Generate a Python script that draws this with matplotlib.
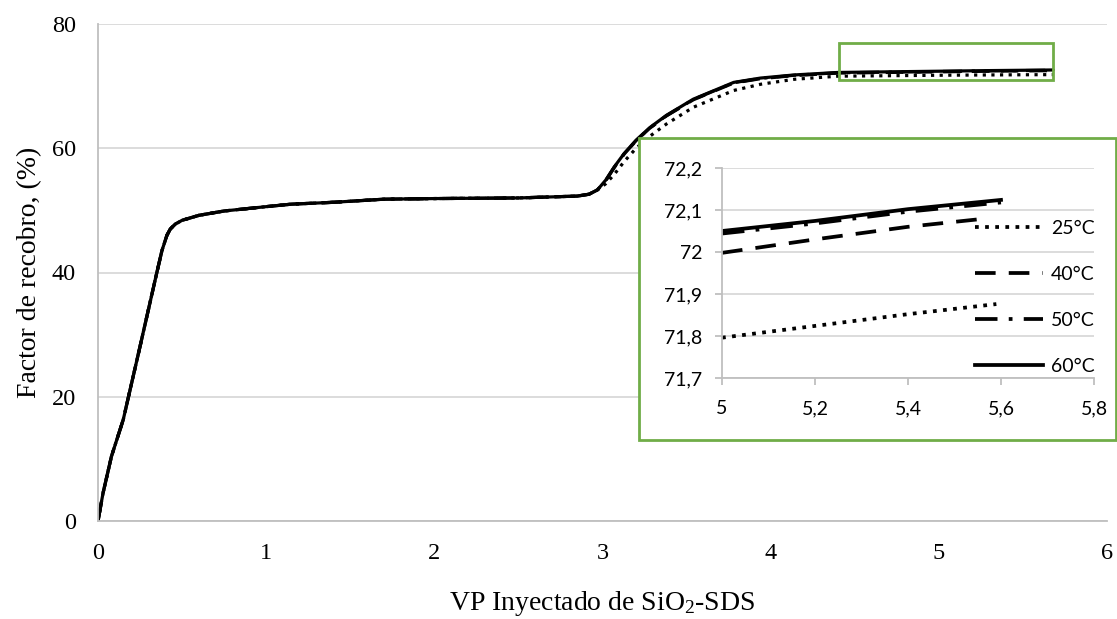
import matplotlib
matplotlib.use("Agg")
import matplotlib.pyplot as plt
from matplotlib.patches import Rectangle
from matplotlib.ticker import FuncFormatter

# recovery factor vs injected pore volumes; all runs coincide up to ~2.95 VP
vp_common = [0, 0.03, 0.08, 0.15, 0.25, 0.35, 0.38, 0.41, 0.43, 0.46, 0.5, 0.6,
             0.75, 1.0, 1.15, 1.4, 1.7, 2.0, 2.5, 2.85, 2.92, 2.97]
fr_common = [0, 4.5, 10.4, 16.3, 28.1, 40.0, 43.5, 46.0, 47.0, 47.8, 48.4, 49.2,
             49.9, 50.6, 51.0, 51.3, 51.8, 51.9, 52.0, 52.3, 52.6, 53.3]

vp_tail = [3.02, 3.07, 3.13, 3.2, 3.28, 3.38, 3.54, 3.78, 3.94, 4.14, 4.4, 5.0, 5.3, 5.68]
fr_25 = [54.3, 55.8, 57.9, 60.0, 61.9, 63.9, 66.6, 69.3, 70.3, 71.1, 71.6, 71.75, 71.8, 71.85]
fr_40 = [54.8, 56.9, 59.1, 61.2, 63.2, 65.2, 67.8, 70.5, 71.2, 71.7, 72.1, 72.3, 72.4, 72.5]
fr_50 = [54.85, 56.95, 59.15, 61.25, 63.25, 65.25, 67.85, 70.55, 71.25, 71.75, 72.15, 72.35, 72.45, 72.55]
fr_60 = [54.9, 57.0, 59.2, 61.3, 63.3, 65.3, 67.9, 70.6, 71.3, 71.8, 72.2, 72.4, 72.5, 72.6]

# close-up between 5 and 5.6 VP
zx_25 = [5.0, 5.2, 5.4, 5.59]
zy_25 = [71.796, 71.824, 71.852, 71.876]
zx_40 = [5.0, 5.2, 5.4, 5.57]
zy_40 = [71.998, 72.03, 72.06, 72.08]
zx_50 = [5.0, 5.2, 5.4, 5.6]
zy_50 = [72.044, 72.068, 72.096, 72.118]
zx_60 = [5.0, 5.2, 5.4, 5.6]
zy_60 = [72.05, 72.074, 72.102, 72.124]

labels = ["25°C", "40°C", "50°C", "60°C"]
main_x_ticks = [0, 1, 2, 3, 4, 5, 6]
main_y_ticks = [0, 20, 40, 60, 80]
zoom_x_ticks = [5, 5.2, 5.4, 5.6, 5.8]
zoom_y_ticks = [71.7, 71.8, 71.9, 72.0, 72.1, 72.2]

plt.rcParams["mathtext.fontset"] = "custom"
plt.rcParams["mathtext.rm"] = "Liberation Serif"
plt.rcParams["mathtext.default"] = "regular"

GREEN = "#70AD47"
GRID = "#D9D9D9"
AXIS = "#BFBFBF"
W, H = 1117, 619

styles = [(0, (1, 1.7)), (0, (5.5, 3.5)), (0, (6, 3, 1, 3)), "-"]

fig = plt.figure(figsize=(W / 100, H / 100), dpi=100)
ax = fig.add_axes([98 / W, 1 - 521 / H, (1107 - 98) / W, (521 - 24) / H])

tails = [fr_25, fr_40, fr_50, fr_60]
for fr, ls in zip(tails, styles):
    ax.plot(vp_common + vp_tail, fr_common + fr, color="black", lw=2.3,
            linestyle=ls, dash_capstyle="butt", solid_capstyle="round",
            solid_joinstyle="round")

ax.set_xlim(0, 6)
ax.set_ylim(0, 80)
ax.set_xticks(main_x_ticks)
ax.set_yticks(main_y_ticks)
ax.yaxis.grid(True, color=GRID, lw=1.3)
ax.set_axisbelow(True)
for side in ["top", "right"]:
    ax.spines[side].set_visible(False)
for side in ["left", "bottom"]:
    ax.spines[side].set_color(AXIS)
    ax.spines[side].set_linewidth(1.3)
ax.tick_params(length=0, labelsize=17.5)
ax.tick_params(axis="x", pad=16)
ax.tick_params(axis="y", pad=16)
for t in ax.get_xticklabels() + ax.get_yticklabels():
    t.set_fontfamily("Liberation Serif")

ax.set_xlabel("VP Inyectado de SiO$_2$-SDS", fontsize=20, family="Liberation Serif")
ax.xaxis.set_label_coords(0.5, (521 - 610) / 497)
ax.xaxis.label.set_va("baseline")
ax.set_ylabel("Factor de recobro, (%)", fontsize=20, family="Liberation Serif")
ax.yaxis.set_label_coords((30 - 98) / 1009, 0.5)
ax.yaxis.label.set_va("center")

# highlighted region on the main curve
ax.add_patch(Rectangle((4.405, 70.97), 5.679 - 4.405, 76.9 - 70.97, fill=False,
                       edgecolor=GREEN, lw=2.0, zorder=5, clip_on=False))

# white framed box holding the close-up
box = Rectangle((639 / W, 1 - 440 / H), (1116 - 639) / W, (440 - 138) / H,
                transform=fig.transFigure, facecolor="white", edgecolor=GREEN,
                lw=2.0, zorder=0.5)
fig.add_artist(box)

ins = fig.add_axes([722 / W, 1 - 378 / H, (1094 - 722) / W, (378 - 168) / H])
ins.set_zorder(1)
ins.patch.set_alpha(0)
zoom_data = [(zx_25, zy_25), (zx_40, zy_40), (zx_50, zy_50), (zx_60, zy_60)]
for (zx, zy), ls, lab in zip(zoom_data, styles, labels):
    ins.plot(zx, zy, color="black", lw=2.7, linestyle=ls, label=lab,
             dash_capstyle="butt")

ins.set_xlim(5, 5.8)
ins.set_ylim(71.7, 72.2)
ins.set_xticks(zoom_x_ticks)
ins.set_yticks(zoom_y_ticks)
fmt = FuncFormatter(lambda v, p: f"{v:g}".replace(".", ","))
ins.xaxis.set_major_formatter(fmt)
ins.yaxis.set_major_formatter(fmt)
ins.yaxis.grid(True, color=GRID, lw=1.3)
ins.set_axisbelow(True)
for side in ["top", "right"]:
    ins.spines[side].set_visible(False)
for side in ["left", "bottom"]:
    ins.spines[side].set_color(AXIS)
    ins.spines[side].set_linewidth(1.3)
ins.tick_params(length=5, width=1.3, color=AXIS, labelsize=14)
ins.tick_params(axis="x", pad=11)
ins.tick_params(axis="y", pad=9)
for t in ins.get_xticklabels() + ins.get_yticklabels():
    t.set_fontfamily("Lato")

leg = ins.legend(loc="center right", bbox_to_anchor=(1095 / W, 1 - 297.5 / H),
                 bbox_transform=fig.transFigure, frameon=False, prop={"family": "Lato", "size": 14},
                 handlelength=3.5, handletextpad=0.4, labelspacing=1.5,
                 borderpad=0, borderaxespad=0)

fig.savefig("out.png", dpi=100)
